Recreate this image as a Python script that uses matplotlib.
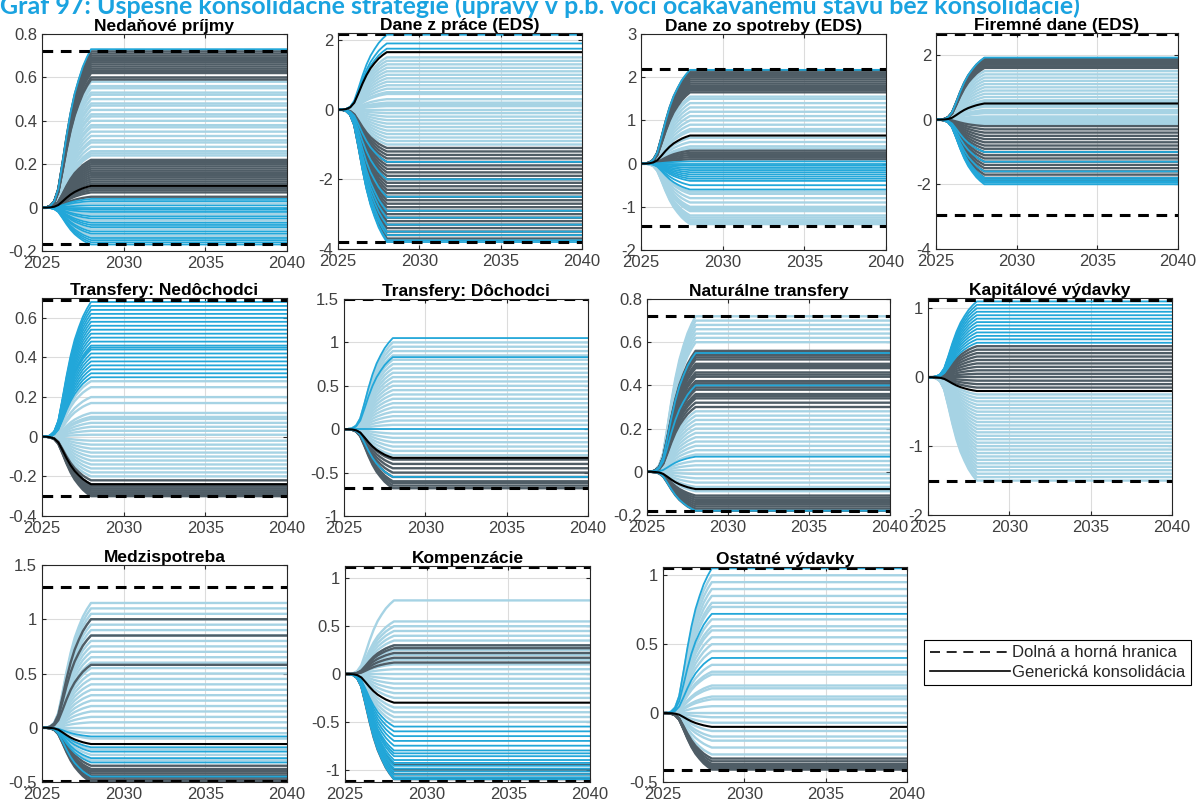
import numpy as np
import matplotlib
matplotlib.use("Agg")
import matplotlib.pyplot as plt
from matplotlib.lines import Line2D

plt.rcParams['font.family'] = ['Liberation Sans', 'DejaVu Sans']

# shared path shape: share of the final level reached at each date (quarterly to 2028, flat after)
ramp_years = [2025, 2025.25, 2025.5, 2025.75, 2026, 2026.25, 2026.5, 2026.75,
              2027, 2027.25, 2027.5, 2027.75, 2028, 2040]
ramp_share = [0, 0.0, 0.01, 0.04, 0.12, 0.28, 0.45, 0.6, 0.72, 0.81, 0.89, 0.95, 1.0, 1.0]

titles = ["Nedaňové príjmy", "Dane z práce (EDS)", "Dane zo spotreby (EDS)", "Firemné dane (EDS)",
          "Transfery: Nedôchodci", "Transfery: Dôchodci", "Naturálne transfery", "Kapitálové výdavky",
          "Medzispotreba", "Kompenzácie", "Ostatné výdavky"]
bound_low = [-0.17, -3.8, -1.45, -2.95, -0.3, -0.68, -0.18, -1.5, -0.49, -1.12, -0.41]
bound_high = [0.72, 2.18, 2.2, 2.65, 0.69, 1.5, 0.72, 1.12, 1.3, 1.12, 1.05]
generic = [0.1, 1.65, 0.65, 0.5, -0.24, -0.33, -0.08, -0.2, -0.15, -0.3, -0.1]
ylims = [(-0.2, 0.8), (-4, 2.2), (-2, 3), (-4, 2.68), (-0.4, 0.7), (-1, 1.5),
         (-0.2, 0.8), (-2, 1.15), (-0.5, 1.5), (-1.13, 1.13), (-0.5, 1.06)]
yticks = [[-0.2, 0, 0.2, 0.4, 0.6, 0.8], [-4, -2, 0, 2], [-2, -1, 0, 1, 2, 3], [-4, -2, 0, 2],
          [-0.4, -0.2, 0, 0.2, 0.4, 0.6], [-1, -0.5, 0, 0.5, 1, 1.5], [-0.2, 0, 0.2, 0.4, 0.6, 0.8],
          [-2, -1, 0, 1], [-0.5, 0, 0.5, 1, 1.5], [-1, -0.5, 0, 0.5, 1], [-0.5, 0, 0.5, 1]]

# final levels of the scenario lines (2028 onwards), grouped by shade
ned_pale = [0.58, 0.56, 0.55, 0.53, 0.52, 0.5, 0.48, 0.47, 0.45, 0.43, 0.42, 0.4, 0.38, 0.37,
            0.35, 0.33, 0.31, 0.3, 0.28, 0.26, 0.25, 0.24, 0.02, -0.03, -0.06, -0.1, -0.13]
ned_gray = [0.72, 0.71, 0.7, 0.69, 0.68, 0.67, 0.66, 0.65, 0.64, 0.63, 0.62, 0.6, 0.59,
            0.22, 0.21, 0.2, 0.19, 0.18, 0.17, 0.16, 0.15, 0.14, 0.13, 0.12, 0.11, 0.09, 0.08, 0.07, 0.05]
ned_blue = [0.73, 0.04, 0.03, 0.01, 0.0, -0.01, -0.02, -0.04, -0.05, -0.07, -0.08, -0.09,
            -0.11, -0.12, -0.14, -0.15, -0.16, -0.17]

prace_pale = [1.5, 1.4, 1.3, 1.2, 1.1, 1.0, 0.9, 0.8, 0.7, 0.6, 0.5, 0.45, 0.3, 0.2,
              0.15, 0.1, 0.0, -0.1, -0.2, -0.3, -0.4, -0.5, -0.6, -0.7, -0.8, -0.9, -1.0]
prace_gray = [-1.1, -1.2, -1.3, -1.4, -1.5, -1.6, -1.7, -1.8, -1.9, -2.0, -2.1, -2.2, -2.3,
              -2.4, -2.5, -2.6, -2.7, -2.8, -2.9, -3.0, -3.1, -3.2, -3.3, -3.4, -3.5, -3.6, -3.7]
prace_blue = [2.15, 1.9, 1.75, -1.5, -2.0, -2.5, -2.9, -3.1, -3.3, -3.5, -3.6, -3.75, -3.8]

spotr_pale = [1.55, 1.5, 1.4, 1.3, 1.2, 1.1, 1.0, 0.9, 0.8, 0.75, 0.6, 0.5, 0.4, 0.35,
              -0.65, -0.7, -0.8, -0.9, -1.0, -1.05, -1.1, -1.2, -1.25, -1.3, -1.35, -1.4]
spotr_gray = [2.15, 2.1, 2.05, 2.0, 1.95, 1.9, 1.85, 1.8, 1.75, 1.7, 1.65, 0.3, 0.25, 0.2, 0.15, 0.1]
spotr_blue = [2.17, 0.05, 0.0, -0.05, -0.1, -0.15, -0.2, -0.25, -0.3, -0.35, -0.4, -0.5, -0.6]

firm_pale = [1.5, 1.4, 1.3, 1.2, 1.1, 1.0, 0.9, 0.8, 0.7, 0.6, 0.55, 0.45, 0.4, 0.3,
             0.25, 0.2, 0.1, 0.05, 0.0, -0.05, -0.1, -0.15]
firm_gray = [1.9, 1.85, 1.8, 1.75, 1.7, 1.65, 1.6, -0.2, -0.3, -0.4, -0.5, -0.6, -0.7, -0.8,
             -0.9, -1.0, -1.1, -1.2, -1.3, -1.4, -1.5, -1.6, -1.7, -1.8, -1.9]
firm_blue = [1.92, -1.0, -1.3, -1.6, -1.8, -1.85, -1.9, -1.95, -2.0]

nedo_pale = [0.28, 0.25, 0.2, 0.17, 0.12, 0.1, 0.09, 0.07, 0.05, 0.03, 0.01,
             -0.02, -0.04, -0.06, -0.08, -0.1, -0.12, -0.14, -0.16, -0.18, -0.2]
nedo_gray = [-0.22, -0.24, -0.25, -0.26, -0.27, -0.28, -0.29, -0.3]
nedo_blue = [0.68, 0.66, 0.64, 0.62, 0.6, 0.58, 0.56, 0.54, 0.52, 0.5, 0.48, 0.46, 0.45,
             0.44, 0.42, 0.4, 0.38, 0.36, 0.34, 0.32, 0.3]

doch_pale = [1.0, 0.95, 0.9, 0.85, 0.8, 0.75, 0.7, 0.65, 0.6, 0.55, 0.5, 0.45, 0.4, 0.35, 0.3,
             0.25, 0.2, 0.15, 0.1, 0.05, -0.05, -0.1, -0.15, -0.2, -0.25, -0.3]
doch_gray = [-0.35, -0.4, -0.45, -0.5, -0.55, -0.6, -0.62, -0.65, -0.68]
doch_blue = [1.05, 0.83, 0.0, -0.55]

natur_pale = [0.72, 0.7, 0.68, 0.66, 0.64, 0.62, 0.6, 0.28, 0.26, 0.24, 0.22, 0.2, 0.18, 0.16,
              0.14, 0.12, 0.1, 0.08, 0.05, 0.03, 0.01, -0.01, -0.03, -0.05, -0.07, -0.09]
natur_gray = [0.56, 0.55, 0.54, 0.53, 0.52, 0.5, 0.49, 0.48, 0.46, 0.45, 0.44, 0.42, 0.41, 0.4,
              0.39, 0.38, 0.36, 0.35, 0.34, 0.32, 0.3, -0.11, -0.12, -0.13, -0.14, -0.15, -0.16, -0.17, -0.18]
natur_blue = [0.07, 0.55, 0.4, -0.18]

kap_pale = [-0.25, -0.3, -0.35, -0.4, -0.45, -0.5, -0.55, -0.6, -0.65, -0.7, -0.75, -0.8, -0.85,
            -0.9, -0.95, -1.0, -1.05, -1.1, -1.15, -1.2, -1.25, -1.3, -1.35, -1.4, -1.45, -1.5]
kap_gray = [0.45, 0.4, 0.35, 0.3, 0.25, 0.2, 0.15, 0.1, 0.05, 0.0, -0.05, -0.1, -0.15]
kap_blue = [1.1, 1.05, 1.0, 0.95, 0.9, 0.85, 0.8, 0.75, 0.7, 0.65, 0.6, 0.55, 0.5]

medz_pale = [1.15, 1.1, 1.05, 1.0, 0.95, 0.9, 0.85, 0.8, 0.75, 0.7, 0.65, 0.6, 0.55, 0.5, 0.45,
             0.4, 0.35, 0.3, 0.25, 0.2, 0.15, 0.1, 0.05, 0.0, -0.05, -0.1, -0.2, -0.25, -0.3]
medz_gray = [1.0, 0.85, 0.58, -0.35, -0.38, -0.4, -0.42, -0.44, -0.46, -0.48, -0.5]
medz_blue = [-0.08, -0.18, -0.22, -0.28, -0.32, -0.45]

komp_pale = [0.77, 0.55, 0.5, 0.45, 0.4, 0.35, 0.3, 0.25, 0.2, 0.15, 0.1, 0.05, 0.0,
             -0.05, -0.1, -0.15, -0.2, -0.25, -0.35, -0.4, -0.45, -0.5]
komp_gray = [0.3, 0.27, 0.22, 0.17, 0.12, -0.95, -1.0, -1.05, -1.1]
komp_blue = [-0.55, -0.6, -0.65, -0.7, -0.75, -0.8, -0.83, -0.86, -0.9, -0.93, -0.96,
             -0.99, -1.02, -1.05, -1.08, -1.1]

ost_pale = [1.0, 0.95, 0.9, 0.85, 0.8, 0.77, 0.68, 0.63, 0.6, 0.55, 0.5, 0.45, 0.35, 0.3, 0.28,
            0.2, 0.18, 0.12, 0.1, 0.05, 0.0, -0.03, -0.07, -0.13, -0.17, -0.2, -0.25, -0.3]
ost_gray = [-0.33, -0.35, -0.37, -0.38, -0.39, -0.4, -0.41]
ost_blue = [1.05, 0.72, 0.4]

pale_sets = [ned_pale, prace_pale, spotr_pale, firm_pale, nedo_pale, doch_pale,
             natur_pale, kap_pale, medz_pale, komp_pale, ost_pale]
gray_sets = [ned_gray, prace_gray, spotr_gray, firm_gray, nedo_gray, doch_gray,
             natur_gray, kap_gray, medz_gray, komp_gray, ost_gray]
blue_sets = [ned_blue, prace_blue, spotr_blue, firm_blue, nedo_blue, doch_blue,
             natur_blue, kap_blue, medz_blue, komp_blue, ost_blue]

# axes boxes in pixels: left, right, top, bottom
boxes = [(42, 287, 34, 251), (338, 582, 33, 249), (641, 886, 34, 250), (936, 1178, 33, 249),
         (42, 287, 298, 516), (344, 588, 299, 516), (647, 890, 299, 515), (928, 1172, 298, 515),
         (42, 287, 565, 782), (345, 590, 566, 782), (663, 907, 567, 782)]

W, H = 1196, 807
fig = plt.figure(figsize=(W / 100, H / 100), dpi=100)

share = np.array(ramp_share)
for i in range(11):
    l, r, t, b = boxes[i]
    ax = fig.add_axes([l / W, 1 - b / H, (r - l) / W, (b - t) / H])
    ax.plot(ramp_years, np.outer(share, pale_sets[i]), color='#a6d3e4', lw=1.7)
    ax.plot(ramp_years, np.outer(share, gray_sets[i]), color='#4f5d66', lw=1.7)
    ax.plot(ramp_years, np.outer(share, blue_sets[i]), color='#22a7d9', lw=1.3)
    ax.plot(ramp_years, share * generic[i], color='black', lw=1.5)
    ax.axhline(bound_low[i], color='black', lw=2.2, dashes=(3.5, 2.5))
    ax.axhline(bound_high[i], color='black', lw=2.2, dashes=(3.5, 2.5))
    ax.set_xlim(2025, 2040)
    ax.set_ylim(*ylims[i])
    ax.set_xticks([2025, 2030, 2035, 2040])
    ax.set_yticks(yticks[i])
    ax.set_yticklabels([f"{v:g}" for v in yticks[i]])
    ax.grid(True, color='#dcdcdc', lw=0.8)
    ax.set_axisbelow(True)
    ax.tick_params(direction='in', top=True, right=True, length=3, labelsize=12,
                   labelcolor='#404040', color='#262626')
    for s in ax.spines.values():
        s.set_color('#262626')
        s.set_linewidth(0.8)
    ax.set_title(titles[i], fontsize=12.5, fontweight='bold', pad=2)

handles = [Line2D([], [], color='black', lw=1.2, dashes=(6, 4)),
           Line2D([], [], color='black', lw=1.2)]
leg = fig.legend(handles, ["Dolná a horná hranica", "Generická konsolidácia"],
                 loc='center', bbox_to_anchor=(925 / W, 1 - 688 / H, 265 / W, 51 / H),
                 fontsize=12, handlelength=4.8, handletextpad=0.1, labelspacing=0.25,
                 fancybox=False, framealpha=1, borderpad=0.35)
leg.get_frame().set_edgecolor('black')
leg.get_frame().set_linewidth(0.8)
for txt in leg.get_texts():
    txt.set_color('#262626')

fig.text(0.0, 1 - 14 / H, "Graf 97: Úspešné konsolidačné stratégie (úpravy v p.b. voči očakávanému stavu bez konsolidácie)",
         family=['Lato', 'DejaVu Sans'], fontweight='bold', fontsize=18, color='#1aa3e0', va='baseline')

fig.savefig("out.png", dpi=100)
